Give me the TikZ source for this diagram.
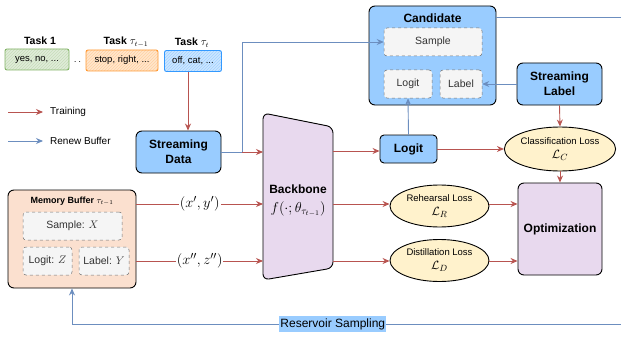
\documentclass[tikz,border=0pt]{standalone}
\usepackage{fontspec}
\setmainfont{Liberation Sans}
\usetikzlibrary{arrows.meta,patterns,shapes.geometric}
\definecolor{redl}{HTML}{B85450}
\definecolor{bluel}{HTML}{6C8EBF}
\definecolor{lblue}{HTML}{99CCFF}
\definecolor{peach}{HTML}{FBE0CF}
\definecolor{purp}{HTML}{E8D9EE}
\definecolor{yel}{HTML}{FFF2CC}
\definecolor{subg}{HTML}{F5F5F5}
\definecolor{tgreen}{HTML}{82B366}
\definecolor{torange}{HTML}{FF9933}
\definecolor{tblue}{HTML}{3399FF}
\begin{document}
\begin{tikzpicture}[x=1pt,y=-1pt,
  every node/.style={inner sep=0pt, align=center},
  box/.style={draw=black, line width=0.9pt, rounded corners=6pt},
  subbox/.style={draw=black!55, dashed, line width=0.5pt, fill=subg, rounded corners=3pt, font=\fontsize{10.5}{12}\selectfont, text=black!80},
  taskbox/.style={draw=#1, line width=0.9pt, rounded corners=2pt, minimum height=21pt,
     preaction={fill=#1!25}, pattern=north east lines, pattern color=#1!45, font=\fontsize{9.5}{10}\selectfont},
  tlabel/.style={font=\bfseries\fontsize{10.5}{12}\selectfont},
  btitle/.style={font=\bfseries\fontsize{12}{14}\selectfont},
  lossell/.style={ellipse, draw=black, line width=0.9pt, fill=yel, minimum width=99pt, minimum height=42pt, font=\fontsize{9.5}{11}\selectfont},
  redarr/.style={draw=redl, line width=0.9pt, -{Stealth[length=7pt,width=6pt]}},
  bluearr/.style={draw=bluel, line width=0.9pt, -{Stealth[length=7pt,width=6pt]}},
  blueline/.style={draw=bluel, line width=0.9pt},
  redline/.style={draw=redl, line width=0.9pt},
  legtext/.style={font=\fontsize{10}{12}\selectfont, anchor=west}
]
\useasboundingbox (0,0) rectangle (621,337);

% Tasks
\node[tlabel] (t1l) at (40,41) {Task 1};
\node[tlabel] (t2l) at (126,42) {Task $\tau_{t-1}$};
\node[tlabel] (t3l) at (192,43) {Task $\tau_t$};
\node[taskbox=tgreen, minimum width=64pt] (t1) at (37,59.5) {yes, no, ...};
\node[taskbox=torange, minimum width=72pt] (t2) at (122,60.5) {stop, right, ...};
\node[taskbox=tblue, minimum width=57pt] (t3) at (193,61) {off, cat, ...};
\node (dots) at (77.5,62) {$\cdot\,\cdot$};

% Legend
\coordinate (lr0) at (8,112); \coordinate (lr1) at (43,112);
\coordinate (lb0) at (8,141); \coordinate (lb1) at (43,141);
\draw[redarr] (lr0) -- (lr1);
\draw[bluearr] (lb0) -- (lb1);
\node[legtext] (ltr) at (50,112) {Training};
\node[legtext] (lrb) at (50,141) {Renew Buffer};

% Streaming data
\node[box, fill=lblue, minimum width=85pt, minimum height=42pt, btitle] (sd) at (178.5,152) {Streaming\\[1pt]Data};

% Candidate
\node[box, fill=lblue, minimum width=127pt, minimum height=99pt] (cand) at (432.5,55.5) {};
\node[btitle] (candt) at (432.5,18) {Candidate};
\node[subbox, minimum width=98pt, minimum height=28pt] (csample) at (433,42) {Sample};
\node[subbox, minimum width=48pt, minimum height=28pt] (clogit) at (408,84) {Logit};
\node[subbox, minimum width=42pt, minimum height=28pt] (clabel) at (461,84) {Label};

% Streaming label
\node[box, fill=lblue, minimum width=85pt, minimum height=42pt, btitle] (slabel) at (559.5,84) {Streaming\\[1pt]Label};

% Backbone
\coordinate (bbtl) at (263,113); \coordinate (bbtr) at (333,127);
\coordinate (bbbr) at (333,268); \coordinate (bbbl) at (263,280);
\draw[line width=0.9pt, fill=purp, rounded corners=6pt] (bbtl) -- (bbtr) -- (bbbr) -- (bbbl) -- cycle;
\node[btitle] (bbt) at (298,189) {Backbone};
\node[font=\fontsize{14}{16}\selectfont] (bbf) at (298,209) {$f(\cdot;\theta_{\tau_{t-1}})$};
\coordinate (bbin1) at (263,152); \coordinate (bbin2) at (263,204); \coordinate (bbin3) at (263,261);
\coordinate (bbo1) at (333,151); \coordinate (bbo2) at (333,204); \coordinate (bbo3) at (333,261);

% Logit
\node[box, rounded corners=4pt, fill=lblue, minimum width=57pt, minimum height=28pt, btitle] (logit) at (408.5,149) {Logit};

% Losses
\node[lossell, minimum width=106pt, minimum height=44pt] (closs) at (560,149) {Classification Loss\\[3pt]{\fontsize{13}{14}\selectfont$\mathcal{L}_C$}};
\node[lossell] (rloss) at (439.5,206) {Rehearsal Loss\\[3pt]{\fontsize{13}{14}\selectfont$\mathcal{L}_R$}};
\node[lossell] (dloss) at (439.5,260.5) {Distillation Loss\\[3pt]{\fontsize{13}{14}\selectfont$\mathcal{L}_D$}};

% Optimization
\node[box, fill=purp, minimum width=84pt, minimum height=92pt, btitle] (opt) at (560,229) {Optimization};

% Memory buffer
\node[box, fill=peach, minimum width=128pt, minimum height=98pt] (mb) at (72,239) {};
\node[font=\bfseries\fontsize{9}{10}\selectfont] (mbt) at (72,201.5) {Memory Buffer $\tau_{t-1}$};
\node[subbox, minimum width=99pt, minimum height=28pt] (msample) at (72.5,226) {Sample: $X$};
\node[subbox, minimum width=49pt, minimum height=28pt] (mlogit) at (47.5,261) {Logit: $Z$};
\node[subbox, minimum width=50pt, minimum height=28pt] (mlabel) at (104,261) {Label: $Y$};

% ---- connectors
\draw[redarr] (t3.south -| 188,0) -- (sd.north -| 188,0);
\coordinate (sdj) at (242,152);
\coordinate (sdup) at (242,42);
\draw[blueline] (sd.east |- sdj) -- (sdj);
\draw[bluearr] (sdj) -- (sdup) -- (csample.west);
\draw[redarr] (sdj) -- (bbin1);

\coordinate (candr) at (621,17);
\draw[blueline] (cand.east |- candr) -- (candr);

\draw[bluearr] (slabel.west) -- (clabel.east);
\draw[redarr] (slabel.south) -- (closs.north);
\draw[bluearr] (logit.north) -- (clogit.south);

\draw[redarr] (bbo1) -- (logit.west |- bbo1);
\draw[redarr] (logit.east) -- (closs.west);
\draw[redarr] (closs.south) -- (opt.north);
\draw[redarr] (bbo2) -- (rloss.west |- bbo2);
\draw[redarr] (rloss.east |- bbo2) -- (opt.west |- bbo2);
\draw[redarr] (bbo3) -- (dloss.west |- bbo3);
\draw[redarr] (dloss.east |- bbo3) -- (opt.west |- bbo3);

\draw[redarr] (mb.east |- bbin2) -- node[fill=white, inner xsep=1pt, font=\fontsize{15}{16}\selectfont] (xy1) {$(x',y')$} (bbin2);
\draw[redarr] (mb.east |- bbin3) -- node[fill=white, inner xsep=1pt, font=\fontsize{15}{16}\selectfont] (xy2) {$(x'',z'')$} (bbin3);

\coordinate (resr) at (621,324);
\coordinate (resl) at (72,324);
\draw[bluearr] (resr) -- node[pos=0.525, fill=lblue, inner xsep=1pt, inner ysep=2pt, font=\fontsize{12}{14}\selectfont] (res) {Reservoir Sampling} (resl) -- (mb.south);
\end{tikzpicture}
\end{document}
